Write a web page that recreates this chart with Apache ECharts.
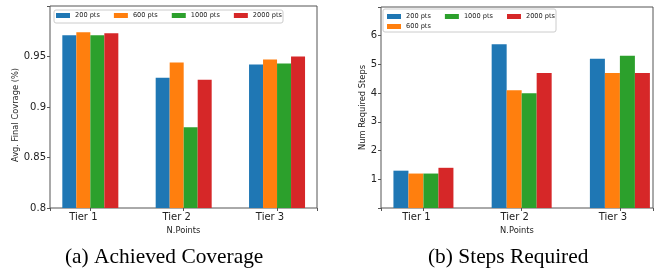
<!DOCTYPE html>
<html>
<head>
<meta charset="utf-8">
<script src="https://cdn.jsdelivr.net/npm/echarts@6/dist/echarts.min.js"></script>
<style>
  html, body { margin: 0; padding: 0; background: #fff; }
  #chart { width: 665px; height: 270px; }
</style>
</head>
<body>
<div id="chart"></div>
<script>
// tiers on the x axis (bars sit at index 0,1,2)
const tiers = ["Tier 1", "Tier 2", "Tier 3"];
const seriesNames = ["200 pts", "600 pts", "1000 pts", "2000 pts"];
const colors = ["#1f77b4", "#ff7f0e", "#2ca02c", "#d62728"];

// (a) achieved coverage
const coverage200 = [0.971, 0.929, 0.942];
const coverage600 = [0.974, 0.944, 0.947];
const coverage1000 = [0.971, 0.880, 0.943];
const coverage2000 = [0.973, 0.927, 0.950];

// (b) steps required
const steps200 = [1.3, 5.7, 5.2];
const steps600 = [1.2, 4.1, 4.7];
const steps1000 = [1.2, 4.0, 5.3];
const steps2000 = [1.4, 4.7, 4.7];

const coverageTicks = ["0.8", "0.85", "0.9", "0.95"];
const stepsTicks = ["1", "2", "3", "4", "5", "6"];

const coverageData = [coverage200, coverage600, coverage1000, coverage2000];
const stepsData = [steps200, steps600, steps1000, steps2000];

const font = "DejaVu Sans";
const frameColor = "#555";

const chart = echarts.init(document.getElementById("chart"));

const xAxisBase = (min, max) => ({
  type: "value",
  min: min,
  max: max,
  splitNumber: 3,
  name: "N.Points",
  nameLocation: "middle",
  nameGap: 16,
  nameTextStyle: { fontFamily: font, fontSize: 8.3, color: "#222" },
  axisLine: { show: false, onZero: false },
  axisTick: { show: true, length: 3, lineStyle: { color: frameColor } },
  splitLine: { show: false },
  axisLabel: {
    fontFamily: font,
    fontSize: 10,
    color: "#222",
    margin: 4,
    padding: [0, 14, 0, 0],
    formatter: (v) => (Number.isInteger(v) && tiers[v] ? tiers[v] : ""),
  },
});

const makeSeries = (data, axisIndex, barWidth) =>
  data.map((vals, k) => ({
    name: seriesNames[k],
    type: "bar",
    xAxisIndex: axisIndex,
    yAxisIndex: axisIndex,
    barWidth: barWidth,
    barGap: "0%",
    itemStyle: { color: colors[k] },
    data: vals.map((v, i) => [i, v]),
  }));

const legendText = { fontFamily: font, fontSize: 6.6, color: "#222" };
const legendBase = {
  itemWidth: 14,
  itemHeight: 5,
  itemGap: 14,
  padding: 0,
  icon: "rect",
  z: 10,
  textStyle: legendText,
};

const option = {
  animation: false,
  grid: [
    { left: 50, right: 348, top: 6, bottom: 62, show: true, borderColor: frameColor, borderWidth: 1 },
    { left: 381, right: 12, top: 7, bottom: 62, show: true, borderColor: frameColor, borderWidth: 1 },
  ],
  legend: [
    Object.assign({ data: seriesNames, left: 56, top: 12 }, legendBase),
    Object.assign({ data: ["200 pts", "1000 pts", "2000 pts"], left: 387, top: 13 }, legendBase),
    Object.assign({ data: ["600 pts"], left: 387, top: 23 }, legendBase),
  ],
  xAxis: [
    Object.assign(xAxisBase(-0.432, 2.428), { gridIndex: 0 }),
    Object.assign(xAxisBase(-0.432, 2.337), { gridIndex: 1 }),
  ],
  yAxis: [
    {
      gridIndex: 0,
      type: "value",
      min: 0.8,
      max: 1.0,
      interval: 0.05,
      name: "Avg. Final Covrage (%)",
      nameLocation: "middle",
      nameGap: 28,
      nameTextStyle: { fontFamily: font, fontSize: 8.3, color: "#222", padding: [0, 16, 0, 0] },
      axisLine: { show: false, onZero: false },
      axisTick: { length: 3, lineStyle: { color: frameColor } },
      splitLine: { show: false },
      axisLabel: {
        fontFamily: font,
        fontSize: 10,
        color: "#222",
        margin: 4,
        formatter: (v) => coverageTicks.find((t) => Math.abs(+t - v) < 1e-9) || "",
      },
    },
    {
      gridIndex: 1,
      type: "value",
      min: 0,
      max: 7,
      interval: 1,
      name: "Num Required Steps",
      nameLocation: "middle",
      nameGap: 14,
      nameTextStyle: { fontFamily: font, fontSize: 8.3, color: "#222" },
      axisLine: { show: false, onZero: false },
      axisTick: { length: 3, lineStyle: { color: frameColor } },
      splitLine: { show: false },
      axisLabel: {
        fontFamily: font,
        fontSize: 10,
        color: "#222",
        margin: 4,
        formatter: (v) => stepsTicks.find((t) => +t === v) || "",
      },
    },
  ],
  graphic: [
    // legend boxes
    { type: "rect", z: 1, shape: { x: 54, y: 10, width: 229, height: 13, r: 2 }, style: { fill: "#fff", stroke: "#ccc", lineWidth: 1 } },
    { type: "rect", z: 1, shape: { x: 383, y: 9, width: 173, height: 23, r: 2 }, style: { fill: "#fff", stroke: "#ccc", lineWidth: 1 } },
    // captions
    { type: "text", left: 65, top: 247, style: { text: "(a) Achieved Coverage", font: "21.4px 'Liberation Serif'", fill: "#000" } },
    { type: "text", left: 428, top: 247, style: { text: "(b) Steps Required", font: "21.4px 'Liberation Serif'", fill: "#000" } },
  ],
  series: [...makeSeries(coverageData, 0, 14), ...makeSeries(stepsData, 1, 15)],
};

chart.setOption(option);
</script>
</body>
</html>
